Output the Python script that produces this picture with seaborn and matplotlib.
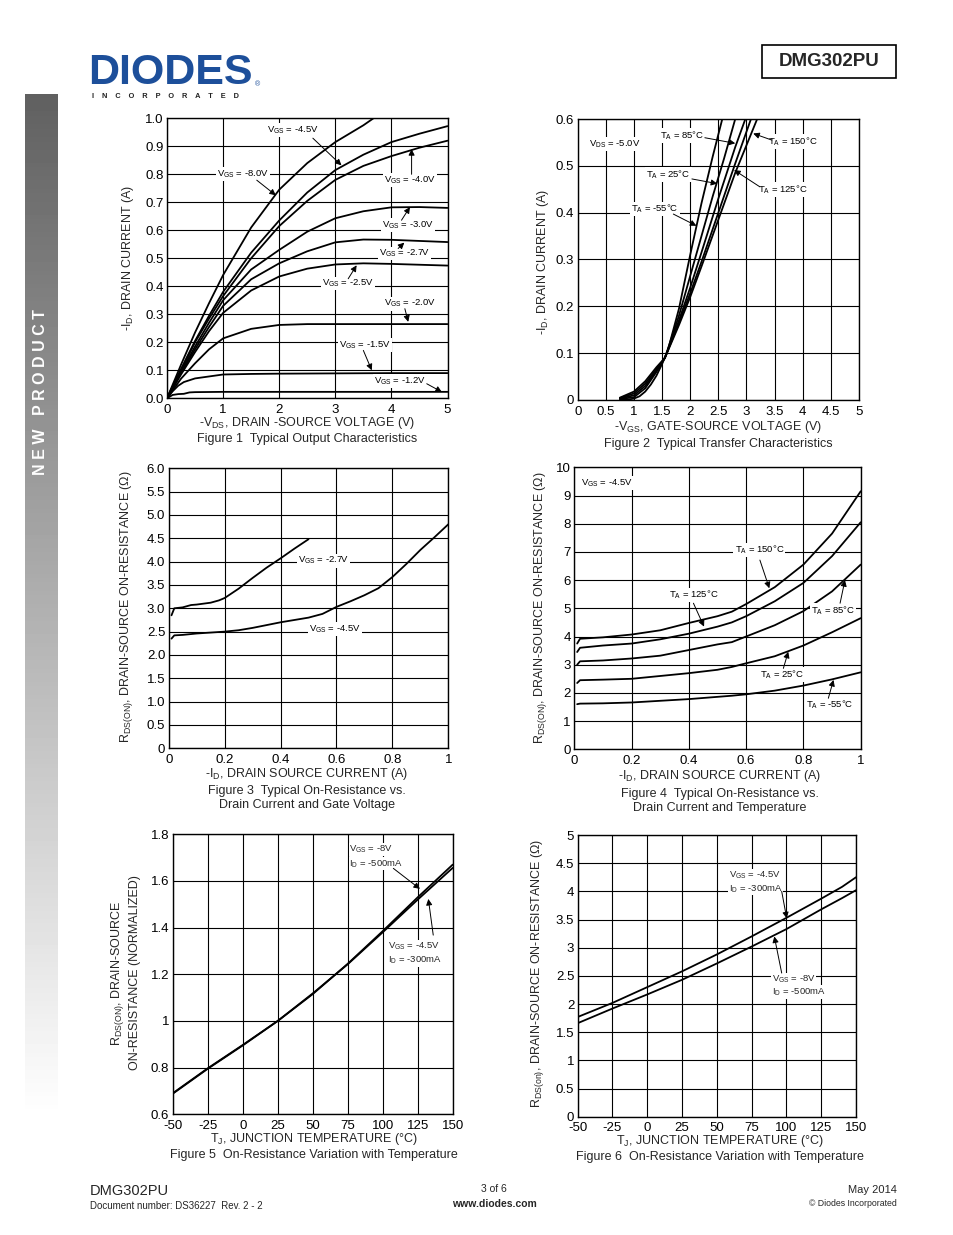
import numpy as np
import pandas as pd
import matplotlib
matplotlib.use("Agg")
import matplotlib.pyplot as plt
import seaborn as sns
from matplotlib.patches import Rectangle

# ---------------- DATA ----------------
# Figure 1: output characteristics (-VDS vs -ID) per VGS
f1_names = ["-8.0V", "-4.5V", "-4.0V", "-3.0V", "-2.7V", "-2.5V", "-2.0V", "-1.5V", "-1.2V"]
f1_grid = [0, 0.25, 0.5, 0.75, 1.0, 1.5, 2.0, 2.5, 3.0, 3.5, 4.0, 4.5, 5.0]
f1_x = {
    "-8.0V": [0, 0.25, 0.5, 0.75, 1.0, 1.5, 2.0, 2.5, 3.0, 3.5, 3.68],
    "-4.5V": f1_grid, "-4.0V": f1_grid, "-3.0V": f1_grid,
    "-2.7V": f1_grid, "-2.5V": f1_grid, "-2.0V": f1_grid,
    "-1.5V": [0, 0.1, 0.2, 0.3, 0.5, 0.75, 1.0, 1.5, 2.0, 3.0, 4.0, 5.0],
    "-1.2V": [0, 0.1, 0.2, 0.3, 0.4, 0.5, 1.0, 2.0, 3.0, 4.0, 5.0],
}
f1_y = {
    "-8.0V": [0, 0.12, 0.235, 0.34, 0.44, 0.61, 0.745, 0.84, 0.915, 0.975, 1.0],
    "-4.5V": [0, 0.105, 0.205, 0.295, 0.38, 0.52, 0.635, 0.735, 0.815, 0.87, 0.915, 0.945, 0.972],
    "-4.0V": [0, 0.10, 0.20, 0.285, 0.365, 0.50, 0.615, 0.705, 0.78, 0.83, 0.865, 0.895, 0.92],
    "-3.0V": [0, 0.095, 0.185, 0.27, 0.35, 0.46, 0.53, 0.595, 0.643, 0.668, 0.682, 0.683, 0.68],
    "-2.7V": [0, 0.09, 0.175, 0.255, 0.33, 0.425, 0.482, 0.525, 0.557, 0.567, 0.566, 0.562, 0.558],
    "-2.5V": [0, 0.085, 0.165, 0.24, 0.305, 0.385, 0.435, 0.463, 0.478, 0.482, 0.48, 0.477, 0.474],
    "-2.0V": [0, 0.07, 0.125, 0.175, 0.214, 0.248, 0.262, 0.265, 0.265, 0.265, 0.265, 0.265, 0.265],
    "-1.5V": [0, 0.025, 0.045, 0.058, 0.071, 0.078, 0.085, 0.087, 0.088, 0.089, 0.09, 0.09],
    "-1.2V": [0, 0.012, 0.015, 0.016, 0.021, 0.022, 0.023, 0.023, 0.023, 0.023, 0.023],
}

# Figure 2: transfer characteristics (-VGS vs -ID) per TA
f2_names = ["-55", "25", "85", "125", "150"]
f2_x = {
    "-55": [0.75, 0.9, 1.0, 1.1, 1.2, 1.3, 1.4, 1.5, 1.6, 1.8, 2.0, 2.2, 2.4, 2.57],
    "25": [0.75, 1.0, 1.2, 1.4, 1.55, 1.8, 2.0, 2.2, 2.4, 2.6, 2.8],
    "85": [0.75, 1.0, 1.2, 1.4, 1.55, 1.8, 2.0, 2.2, 2.5, 2.8, 2.98],
    "125": [0.75, 1.0, 1.2, 1.4, 1.55, 1.8, 2.0, 2.2, 2.5, 2.8, 3.08],
    "150": [0.75, 1.0, 1.2, 1.4, 1.55, 1.8, 2.0, 2.2, 2.5, 2.8, 3.19],
}
f2_y = {
    "-55": [0.0, 0.001, 0.003, 0.008, 0.018, 0.033, 0.052, 0.077, 0.105, 0.195, 0.31, 0.42, 0.52, 0.6],
    "25": [0.002, 0.006, 0.025, 0.06, 0.09, 0.18, 0.265, 0.35, 0.435, 0.515, 0.6],
    "85": [0.003, 0.010, 0.030, 0.063, 0.09, 0.17, 0.24, 0.315, 0.43, 0.54, 0.6],
    "125": [0.004, 0.014, 0.035, 0.066, 0.09, 0.165, 0.228, 0.295, 0.40, 0.505, 0.6],
    "150": [0.005, 0.018, 0.040, 0.070, 0.09, 0.16, 0.22, 0.285, 0.385, 0.485, 0.6],
}

# Figure 3: RDS(on) vs ID for two VGS
f3_x_27 = [0.01, 0.02, 0.05, 0.08, 0.1, 0.15, 0.18, 0.2, 0.25, 0.3, 0.35, 0.4, 0.45, 0.5]
f3_y_27 = [2.85, 3.0, 3.02, 3.07, 3.08, 3.12, 3.17, 3.22, 3.42, 3.65, 3.87, 4.07, 4.28, 4.48]
f3_x_45 = [0.01, 0.02, 0.05, 0.1, 0.2, 0.25, 0.3, 0.4, 0.5, 0.55, 0.6, 0.65, 0.7, 0.75, 0.8, 0.85, 0.9, 0.95, 1.0]
f3_y_45 = [2.35, 2.42, 2.43, 2.46, 2.5, 2.53, 2.58, 2.7, 2.8, 2.88, 3.03, 3.15, 3.28, 3.43, 3.67, 3.95, 4.25, 4.52, 4.8]

# Figure 4: RDS(on) vs ID per temperature
f4_x = [0.01, 0.02, 0.1, 0.2, 0.3, 0.4, 0.5, 0.55, 0.6, 0.7, 0.8, 0.9, 1.0]
f4_y = {
    "150": [3.75, 3.92, 3.97, 4.07, 4.22, 4.48, 4.72, 4.88, 5.15, 5.75, 6.55, 7.65, 9.15],
    "125": [3.45, 3.60, 3.68, 3.75, 3.90, 4.10, 4.35, 4.50, 4.72, 5.25, 5.90, 6.85, 8.05],
    "85": [3.00, 3.12, 3.15, 3.22, 3.32, 3.52, 3.72, 3.80, 4.00, 4.40, 4.90, 5.60, 6.55],
    "25": [2.35, 2.45, 2.47, 2.50, 2.60, 2.70, 2.82, 2.92, 3.05, 3.30, 3.68, 4.15, 4.65],
    "-55": [1.60, 1.62, 1.63, 1.66, 1.72, 1.78, 1.86, 1.90, 1.95, 2.08, 2.26, 2.48, 2.73],
}

# Figure 5: normalized RDS(on) vs TJ
f5_t = [-50, -25, 0, 25, 50, 75, 100, 125, 150]
f5_8v = [0.688, 0.795, 0.895, 1.0, 1.115, 1.245, 1.385, 1.53, 1.67]
f5_45v = [0.69, 0.797, 0.897, 1.0, 1.118, 1.243, 1.38, 1.52, 1.656]

# Figure 6: RDS(on) vs TJ
f6_t = [-50, -25, 0, 25, 50, 75, 100, 125, 140, 150]
f6_45v = [1.77, 2.02, 2.30, 2.58, 2.88, 3.20, 3.53, 3.87, 4.08, 4.25]
f6_8v = [1.66, 1.92, 2.17, 2.43, 2.72, 3.02, 3.33, 3.68, 3.88, 4.02]

# ---------------- STYLE ----------------
sns.set_theme(style="white")
plt.rcParams["font.family"] = ["Liberation Sans", "DejaVu Sans"]
plt.rcParams["mathtext.fontset"] = "custom"
plt.rcParams["mathtext.rm"] = "Liberation Sans"
plt.rcParams["mathtext.it"] = "Liberation Sans:italic"
plt.rcParams["mathtext.bf"] = "Liberation Sans:bold"

W, H = 954, 1235
fig = plt.figure(figsize=(W / 100, H / 100), dpi=100)
fig.patch.set_facecolor("white")

TICK_FS = 9.5
LAB_FS = 9.0
ANN_FS = 6.8
LW = 1.3


def fx(px):
    return px / W


def fy(py):
    return 1 - py / H


def make_ax(l, r, t, b):
    return fig.add_axes([l / W, 1 - b / H, (r - l) / W, (b - t) / H])


def style_ax(ax, xlim, ylim, xticks, yticks, xlabels, ylabels):
    ax.set_xlim(*xlim)
    ax.set_ylim(*ylim)
    ax.set_xticks(xticks)
    ax.set_yticks(yticks)
    ax.set_xticklabels(xlabels, fontsize=TICK_FS, color="black")
    ax.set_yticklabels(ylabels, fontsize=TICK_FS, color="black")
    ax.tick_params(axis="x", length=0, pad=4)
    ax.tick_params(axis="y", length=0, pad=2.5)
    ax.grid(True, color="black", lw=0.8)
    ax.set_axisbelow(True)
    for s in ax.spines.values():
        s.set_color("black")
        s.set_linewidth(1.0)
    ax.set_xlabel("")
    ax.set_ylabel("")


def curve(ax, xs, ys):
    sns.lineplot(x=xs, y=ys, ax=ax, color="black", lw=LW, sort=False, estimator=None, zorder=3)


def lab(ax, text, x, y, ha="center"):
    ax.text(x, y, text, ha=ha, va="center", fontsize=ANN_FS, color="black", zorder=6,
            bbox=dict(facecolor="white", edgecolor="none", pad=0.8))


def arr(ax, tail, head):
    ax.annotate("", xy=head, xytext=tail, zorder=7,
                arrowprops=dict(arrowstyle="-|>", color="black", lw=0.7,
                                mutation_scale=9, shrinkA=0, shrinkB=0))


VGS = r"$\mathregular{V_{GS}}$"
VDS = r"$\mathregular{V_{DS}}$"
TA = r"$\mathregular{T_{A}}$"
ID = r"$\mathregular{I_{D}}$"

# ---------------- FIGURE 1 ----------------
ax1 = make_ax(167, 447.5, 118.3, 398.3)
for n in f1_names:
    curve(ax1, f1_x[n], f1_y[n])
style_ax(ax1, (0, 5), (0, 1.0), range(6), np.arange(0, 1.01, 0.1),
         [str(i) for i in range(6)], ["%.1f" % v for v in np.arange(0, 1.01, 0.1)])
lab(ax1, VGS + " = -4.5V", 2.25, 0.957); arr(ax1, (2.6, 0.929), (3.11, 0.832))
lab(ax1, VGS + " = -8.0V", 1.36, 0.80); arr(ax1, (1.6, 0.779), (1.94, 0.725))
lab(ax1, VGS + " = -4.0V", 4.33, 0.78); arr(ax1, (4.36, 0.80), (4.36, 0.89))
lab(ax1, VGS + " = -3.0V", 4.30, 0.618); arr(ax1, (4.18, 0.636), (4.33, 0.683))
lab(ax1, VGS + " = -2.7V", 4.24, 0.517); arr(ax1, (4.12, 0.535), (4.23, 0.556))
lab(ax1, VGS + " = -2.5V", 3.23, 0.41); arr(ax1, (3.23, 0.427), (3.38, 0.475))
lab(ax1, VGS + " = -2.0V", 4.33, 0.338); arr(ax1, (4.24, 0.32), (4.30, 0.273))
lab(ax1, VGS + " = -1.5V", 3.53, 0.189); arr(ax1, (3.50, 0.171), (3.65, 0.10))
lab(ax1, VGS + " = -1.2V", 4.15, 0.062); arr(ax1, (4.63, 0.052), (4.90, 0.0225))
fig.text(fx(128), fy(258), r"-$\mathregular{I_D}$, DRAIN CURRENT (A)", rotation=90,
         ha="center", va="center", fontsize=LAB_FS)
fig.text(fx(307), fy(423), r"-$\mathregular{V_{DS}}$, DRAIN -SOURCE VOLTAGE (V)",
         ha="center", va="center", fontsize=LAB_FS)
fig.text(fx(307), fy(439), "Figure 1  Typical Output Characteristics",
         ha="center", va="center", fontsize=LAB_FS)

# ---------------- FIGURE 2 ----------------
ax2 = make_ax(577.7, 859, 119, 400)
for n in f2_names:
    curve(ax2, f2_x[n], f2_y[n])
x2t = np.arange(0, 5.01, 0.5)
y2t = np.arange(0, 0.61, 0.1)
style_ax(ax2, (0, 5), (0, 0.6), x2t, y2t,
         ["%g" % v for v in x2t], ["0"] + ["%.1f" % v for v in y2t[1:]])
lab(ax2, VDS + " = -5.0V", 0.66, 0.546)
lab(ax2, TA + " = 85°C", 1.85, 0.564); arr(ax2, (2.26, 0.56), (2.80, 0.548))
lab(ax2, TA + " = 150°C", 3.83, 0.552); arr(ax2, (3.45, 0.555), (3.12, 0.569))
lab(ax2, TA + " = 25°C", 1.61, 0.481); arr(ax2, (2.03, 0.472), (2.48, 0.462))
lab(ax2, TA + " = 125°C", 3.64, 0.449); arr(ax2, (3.24, 0.455), (2.78, 0.491))
lab(ax2, TA + " = -55°C", 1.37, 0.408); arr(ax2, (1.70, 0.397), (2.11, 0.372))
fig.text(fx(543), fy(262), r"-$\mathregular{I_D}$, DRAIN CURRENT (A)", rotation=90,
         ha="center", va="center", fontsize=LAB_FS)
fig.text(fx(718), fy(427), r"-$\mathregular{V_{GS}}$, GATE-SOURCE VOLTAGE (V)",
         ha="center", va="center", fontsize=LAB_FS)
fig.text(fx(718), fy(444), "Figure 2  Typical Transfer Characteristics",
         ha="center", va="center", fontsize=LAB_FS)

# ---------------- FIGURE 3 ----------------
ax3 = make_ax(168.7, 448.3, 468.3, 748.3)
curve(ax3, f3_x_27, f3_y_27)
curve(ax3, f3_x_45, f3_y_45)
x3t = np.arange(0, 1.01, 0.2)
y3t = np.arange(0, 6.01, 0.5)
style_ax(ax3, (0, 1), (0, 6), x3t, y3t,
         ["0"] + ["%.1f" % v for v in x3t[1:-1]] + ["1"], ["0"] + ["%.1f" % v for v in y3t[1:]])
lab(ax3, VGS + " = -2.7V", 0.553, 4.02)
lab(ax3, VGS + " = -4.5V", 0.595, 2.556)
fig.text(fx(127), fy(607), r"$\mathregular{R_{DS(ON)}}$, DRAIN-SOURCE ON-RESISTANCE (Ω)", rotation=90,
         ha="center", va="center", fontsize=LAB_FS)
fig.text(fx(307), fy(774), r"-$\mathregular{I_D}$, DRAIN SOURCE CURRENT (A)",
         ha="center", va="center", fontsize=LAB_FS)
fig.text(fx(307), fy(791), "Figure 3  Typical On-Resistance vs.",
         ha="center", va="center", fontsize=LAB_FS)
fig.text(fx(307), fy(805), "Drain Current and Gate Voltage",
         ha="center", va="center", fontsize=LAB_FS)

# ---------------- FIGURE 4 ----------------
ax4 = make_ax(574.3, 860.7, 467.3, 749.3)
for n in ["150", "125", "85", "25", "-55"]:
    curve(ax4, f4_x, f4_y[n])
x4t = np.arange(0, 1.01, 0.2)
style_ax(ax4, (0, 1), (0, 10), x4t, range(11),
         ["0"] + ["%.1f" % v for v in x4t[1:-1]] + ["1"], [str(i) for i in range(11)])
lab(ax4, VGS + " = -4.5V", 0.113, 9.43)
lab(ax4, TA + " = 150°C", 0.646, 7.07); arr(ax4, (0.648, 6.71), (0.681, 5.71))
lab(ax4, TA + " = 125°C", 0.416, 5.47); arr(ax4, (0.416, 5.18), (0.453, 4.35))
lab(ax4, TA + " = 85°C", 0.904, 4.92); arr(ax4, (0.928, 5.18), (0.945, 6.0))
lab(ax4, TA + " = 25°C", 0.724, 2.66); arr(ax4, (0.73, 2.87), (0.747, 3.46))
lab(ax4, TA + " = -55°C", 0.893, 1.57); arr(ax4, (0.887, 1.81), (0.905, 2.46))
fig.text(fx(541), fy(608), r"$\mathregular{R_{DS(ON)}}$, DRAIN-SOURCE ON-RESISTANCE (Ω)", rotation=90,
         ha="center", va="center", fontsize=LAB_FS)
fig.text(fx(720), fy(776), r"-$\mathregular{I_D}$, DRAIN SOURCE CURRENT (A)",
         ha="center", va="center", fontsize=LAB_FS)
fig.text(fx(720), fy(794), "Figure 4  Typical On-Resistance vs.",
         ha="center", va="center", fontsize=LAB_FS)
fig.text(fx(720), fy(808), "Drain Current and Temperature",
         ha="center", va="center", fontsize=LAB_FS)

# ---------------- FIGURE 5 ----------------
ax5 = make_ax(172.7, 452.7, 834.3, 1114.3)
curve(ax5, f5_t, f5_8v)
curve(ax5, f5_t, f5_45v)
t_ticks = list(range(-50, 151, 25))
y5t = np.arange(0.6, 1.81, 0.2)
style_ax(ax5, (-50, 150), (0.6, 1.8), t_ticks, y5t,
         [str(t) for t in t_ticks], ["%g" % round(v, 1) for v in y5t])
ax5.text(76.1, 1.735, VGS + " = -8V", ha="left", va="center", fontsize=ANN_FS, zorder=6,
         bbox=dict(facecolor="white", edgecolor="none", pad=0.5))
ax5.text(76.1, 1.675, ID + " = -500mA", ha="left", va="center", fontsize=ANN_FS, zorder=6,
         bbox=dict(facecolor="white", edgecolor="none", pad=0.5))
arr(ax5, (107.6, 1.654), (126.6, 1.566))
ax5.text(104, 1.32, VGS + " = -4.5V", ha="left", va="center", fontsize=ANN_FS, zorder=6,
         bbox=dict(facecolor="white", edgecolor="none", pad=0.5))
ax5.text(104, 1.262, ID + " = -300mA", ha="left", va="center", fontsize=ANN_FS, zorder=6,
         bbox=dict(facecolor="white", edgecolor="none", pad=0.5))
arr(ax5, (136.1, 1.368), (132.6, 1.523))
fig.text(fx(118), fy(973), r"$\mathregular{R_{DS(ON)}}$, DRAIN-SOURCE", rotation=90,
         ha="center", va="center", fontsize=LAB_FS)
fig.text(fx(135), fy(973), "ON-RESISTANCE (NORMALIZED)", rotation=90,
         ha="center", va="center", fontsize=LAB_FS)
fig.text(fx(314), fy(1139), r"$\mathregular{T_J}$, JUNCTION TEMPERATURE (°C)",
         ha="center", va="center", fontsize=LAB_FS)
fig.text(fx(314), fy(1155), "Figure 5  On-Resistance Variation with Temperature",
         ha="center", va="center", fontsize=LAB_FS)

# ---------------- FIGURE 6 ----------------
ax6 = make_ax(577.7, 856, 835, 1116.7)
curve(ax6, f6_t, f6_45v)
curve(ax6, f6_t, f6_8v)
y6t = np.arange(0, 5.01, 0.5)
style_ax(ax6, (-50, 150), (0, 5), t_ticks, y6t,
         [str(t) for t in t_ticks], ["%g" % v for v in y6t])
ax6.text(58.7, 4.28, VGS + " = -4.5V", ha="left", va="center", fontsize=ANN_FS, zorder=6,
         bbox=dict(facecolor="white", edgecolor="none", pad=0.5))
ax6.text(58.7, 4.05, ID + " = -300mA", ha="left", va="center", fontsize=ANN_FS, zorder=6,
         bbox=dict(facecolor="white", edgecolor="none", pad=0.5))
arr(ax6, (96.6, 4.0), (100.2, 3.52))
ax6.text(89.4, 2.44, VGS + " = -8V", ha="left", va="center", fontsize=ANN_FS, zorder=6,
         bbox=dict(facecolor="white", edgecolor="none", pad=0.5))
ax6.text(89.4, 2.22, ID + " = -500mA", ha="left", va="center", fontsize=ANN_FS, zorder=6,
         bbox=dict(facecolor="white", edgecolor="none", pad=0.5))
arr(ax6, (96.6, 2.55), (91.3, 3.2))
fig.text(fx(538), fy(973), r"$\mathregular{R_{DS(on)}}$, DRAIN-SOURCE ON-RESISTANCE (Ω)", rotation=90,
         ha="center", va="center", fontsize=LAB_FS)
fig.text(fx(720), fy(1141), r"$\mathregular{T_J}$, JUNCTION TEMPERATURE (°C)",
         ha="center", va="center", fontsize=LAB_FS)
fig.text(fx(720), fy(1157), "Figure 6  On-Resistance Variation with Temperature",
         ha="center", va="center", fontsize=LAB_FS)

# ---------------- PAGE DECORATION ----------------
# side bar gradient
axs = fig.add_axes([25 / W, 1 - 1200 / H, 33 / W, (1200 - 94) / H])
grad = np.linspace(0.36, 1.0, 256).reshape(-1, 1)
grad = np.clip(grad * 1.05, 0, 1)
axs.imshow(grad, aspect="auto", cmap="gray", vmin=0, vmax=1, extent=(0, 1, 1, 0))
axs.set_axis_off()
fig.text(fx(41), fy(392), "N E W   P R O D U C T", rotation=90, ha="center", va="center",
         fontsize=11.5, weight="bold", color="white")

# logo
fig.text(fx(88), fy(93), "DIODES", fontsize=31, weight="bold", color="#1d4f9a",
         ha="left", va="bottom")
fig.text(fx(92), fy(98.5), "I    N    C    O    R    P    O    R    A    T    E    D",
         fontsize=5.3, weight="bold", color="#222222", ha="left", va="baseline")
fig.text(fx(258), fy(86), "®", fontsize=5, color="#1d4f9a", ha="center", va="baseline")

# part number box
fig.patches.append(Rectangle((762 / W, 1 - 78 / H), (896 - 762) / W, (78 - 45) / H,
                             transform=fig.transFigure, fill=False, edgecolor="black", lw=1.2))
fig.text(fx(829), fy(62), "DMG302PU", fontsize=13.5, weight="bold", ha="center", va="center")

# footer
fig.text(fx(90), fy(1191), "DMG302PU", fontsize=10.5, ha="left", va="center")
fig.text(fx(90), fy(1206), "Document number: DS36227  Rev. 2 - 2", fontsize=7, ha="left", va="center")
fig.text(fx(494), fy(1189), "3 of 6", fontsize=7.5, ha="center", va="center")
fig.text(fx(494), fy(1204), "www.diodes.com", fontsize=7.5, weight="bold", ha="center", va="center")
fig.text(fx(897), fy(1190), "May 2014", fontsize=8, ha="right", va="center")
fig.text(fx(897), fy(1204), "© Diodes Incorporated", fontsize=6.3, ha="right", va="center")

fig.savefig("out.png", dpi=100, facecolor="white")
